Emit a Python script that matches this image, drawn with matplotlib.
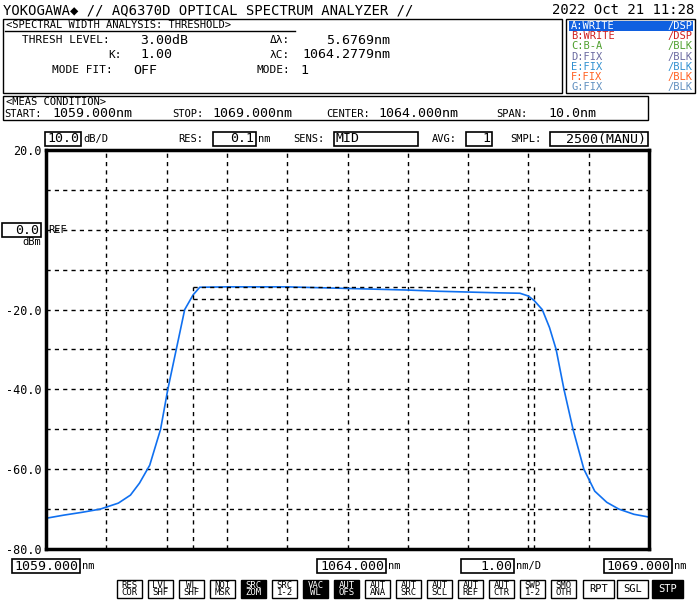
import matplotlib
matplotlib.use("Agg")
import matplotlib.pyplot as plt
from matplotlib.patches import Rectangle

wl = [1059.0,1059.3,1059.6,1059.9,1060.2,1060.4,1060.55,1060.72,1060.9,1061.02,1061.16,1061.3,1061.44,1061.55,
      1062.0,1062.5,1063.0,1063.5,1064.0,1064.5,1065.0,1065.5,1066.0,1066.5,1066.86,1067.0,1067.1,1067.23,
      1067.35,1067.46,1067.59,1067.74,1067.92,1068.1,1068.3,1068.5,1068.75,1069.0]
pw = [-72.3,-71.5,-70.8,-70.0,-68.5,-66.5,-63.5,-59.0,-50.0,-40.0,-30.0,-20.0,-16.3,-14.4,
      -14.3,-14.3,-14.3,-14.5,-14.7,-14.9,-15.1,-15.4,-15.6,-15.8,-15.9,-16.6,-17.8,-20.0,
      -24.5,-30.0,-40.0,-50.0,-60.0,-65.5,-68.3,-70.0,-71.3,-72.0]
peak_level = -14.3
thresh_level = -17.3
left_edge, right_edge = 1061.44, 1067.09
yticks = [20, 10, 0, -10, -20, -30, -40, -50, -60, -70, -80]
ylabels = ["20.0", "", "", "", "-20.0", "", "-40.0", "", "-60.0", "", "-80.0"]
buttons = [("RES\nCOR",0),("LVL\nSHF",0),("WL\nSHF",0),("NOI\nMSK",0),("SRC\nZOM",1),("SRC\n1-2",0),
           ("VAC\nWL",1),("AUT\nOFS",1),("AUT\nANA",0),("AUT\nSRC",0),("AUT\nSCL",0),("AUT\nREF",0),
           ("AUT\nCTR",0),("SWP\n1-2",0),("SMO\nOTH",0)]
traces = [("A:WRITE","/DSP","white"),("B:WRITE","/DSP","#d02020"),("C:B-A","/BLK","#50a030"),
          ("D:FIX","/BLK","#6a6aa0"),("E:FIX","/BLK","#3090d0"),("F:FIX","/BLK","#ff6020"),("G:FIX","/BLK","#6090c0")]

plt.rcParams['font.family'] = ['DejaVu Sans Mono']
fig = plt.figure(figsize=(7, 6), dpi=100)
W, H = 700, 600
def fx(x): return x / W
def fy(y): return 1 - y / H
def T(x, y, s, size=9, ha='left', va='center', **kw):
    fig.text(fx(x), fy(y), s, fontsize=size, ha=ha, va=va, **kw)
def box(x0, y0, x1, y1, lw=1.0, fc='none', ec='black'):
    fig.add_artist(Rectangle((fx(x0), fy(y1)), (x1 - x0) / W, (y1 - y0) / H, transform=fig.transFigure,
                             fill=fc != 'none', facecolor=fc, edgecolor=ec, lw=lw))

T(3, 10, "YOKOGAWA◆ // AQ6370D OPTICAL SPECTRUM ANALYZER //", 10)
T(694, 10, "2022 Oct 21 11:28", 10, ha='right')
box(3, 19, 562, 93)
T(6, 25, "<SPECTRAL WIDTH ANALYSIS: THRESHOLD>", 7.5)
fig.add_artist(plt.Line2D([fx(5), fx(295)], [fy(31), fy(31)], color='black', lw=1))
T(22, 40, "THRESH LEVEL:", 8); T(140, 40, "3.00dB", 9.5)
T(122, 55, "K:", 8, ha='right'); T(140, 55, "1.00", 9.5)
T(52, 70, "MODE FIT:", 8); T(133, 70, "OFF", 9.5)
T(290, 40, "Δλ:", 8, ha='right'); T(390, 40, "5.6769nm", 9.5, ha='right')
T(290, 55, "λC:", 8, ha='right'); T(390, 55, "1064.2779nm", 9.5, ha='right')
T(290, 70, "MODE:", 8, ha='right'); T(300, 70, "1", 9.5)
box(566, 19, 695, 93)
for i, (a, b, c) in enumerate(traces):
    y = 26 + i * 10.2
    if i == 0:
        box(569, y - 5, 693, y + 5, lw=0, fc='#1060e0', ec='#1060e0')
    T(571, y, a, 7.5, color=c); T(692, y, b, 7.5, ha='right', color=c)
box(3, 96, 648, 120)
T(6, 102, "<MEAS CONDITION>", 7.5)
T(4, 114, "START:", 7.5); T(52, 114, "1059.000nm", 9.5)
T(172, 114, "STOP:", 7.5); T(212, 114, "1069.000nm", 9.5)
T(326, 114, "CENTER:", 7.5); T(378, 114, "1064.000nm", 9.5)
T(496, 114, "SPAN:", 7.5); T(548, 114, "10.0nm", 9.5)

def vbox(x0, x1, y, s, size=9.5):
    box(x0, y - 7, x1, y + 7, lw=1.2)
    T(x1 - 2, y, s, size, ha='right')
vbox(45, 81, 139, "10.0"); T(83, 139, "dB/D", 7.5)
T(178, 139, "RES:", 7.5); vbox(213, 256, 139, "0.1"); T(258, 139, "nm", 7.5)
T(293, 139, "SENS:", 7.5); box(334, 132, 418, 146, lw=1.2); T(336, 139, "MID", 9.5)
T(432, 139, "AVG:", 7.5); vbox(466, 492, 139, "1")
T(510, 139, "SMPL:", 7.5); vbox(550, 648, 139, "2500(MANU)")
vbox(2, 41, 230, "0.0"); T(48, 230, "REF", 7.5); T(41, 242, "dBm", 7.5, ha='right')
vbox(12, 80, 566, "1059.000"); T(82, 566, "nm", 7.5)
vbox(317, 386, 566, "1064.000"); T(388, 566, "nm", 7.5)
vbox(461, 514, 566, "1.00"); T(516, 566, "nm/D", 7.5)
vbox(604, 672, 566, "1069.000"); T(674, 566, "nm", 7.5)

for i, (s, inv) in enumerate(buttons):
    x0 = 117 + i * 31
    box(x0, 580, x0 + 25, 598, lw=1, fc='black' if inv else 'none')
    T(x0 + 12.5, 589, s, 6.5, ha='center', color='white' if inv else 'black', linespacing=0.85)
for s, x0, inv in [("RPT", 583, 0), ("SGL", 617, 0), ("STP", 652, 1)]:
    box(x0, 580, x0 + 31, 598, lw=1, fc='black' if inv else 'none')
    T(x0 + 15.5, 589, s, 7.5, ha='center', color='white' if inv else 'black')

ax = fig.add_axes([fx(46), fy(549), (649 - 46) / W, (549 - 150) / H])
ax.set_xlim(1059, 1069); ax.set_ylim(-80, 20)
ax.set_xticks(range(1059, 1070)); ax.set_yticks(yticks)
ax.set_yticklabels(ylabels, fontsize=8.5); ax.set_xticklabels([])
ax.tick_params(length=0, pad=3)
ax.grid(True, color='black', ls=(0, (3, 3)), lw=1)
for sp in ax.spines.values(): sp.set_linewidth(2.5)
ax.plot(wl, pw, color='#1070f0', lw=1.2)
ax.hlines([peak_level, thresh_level], left_edge, right_edge, colors='black', ls=(0, (3, 3)), lw=1)
ax.vlines([left_edge, right_edge], -80, peak_level, colors='black', ls=(0, (3, 3)), lw=1)
fig.savefig("out.png", dpi=100)
